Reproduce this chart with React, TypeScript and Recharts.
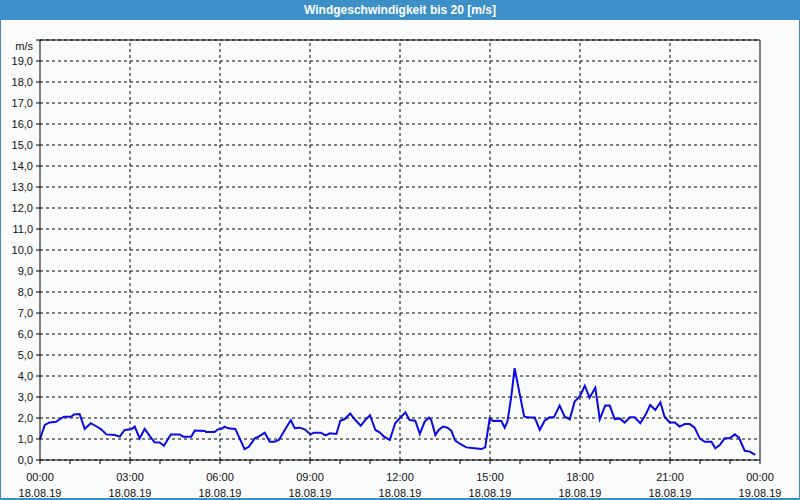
import { LineChart, Line, XAxis, YAxis, CartesianGrid, ReferenceLine } from 'recharts';

// hours since 18.08.19 00:00
const hours = [
  0, 0.16, 0.32, 0.54, 0.66, 0.8, 1.04, 1.13, 1.32, 1.49, 1.69, 1.93, 2.04, 2.21, 2.49, 2.66, 2.82,
  3.04, 3.16, 3.32, 3.49, 3.66, 3.82, 3.99, 4.13, 4.36, 4.66, 4.77, 5.04, 5.16, 5.49, 5.54, 5.82,
  5.93, 6.04, 6.16, 6.27, 6.51, 6.82, 6.96, 7.16, 7.29, 7.49, 7.66, 7.82, 7.96, 8.36, 8.49, 8.66,
  8.82, 9.02, 9.13, 9.36, 9.52, 9.66, 9.88, 10.01, 10.16, 10.34, 10.49, 10.69, 10.84, 11.0, 11.18,
  11.32, 11.47, 11.66, 11.84, 12.0, 12.18, 12.32, 12.51, 12.66, 12.82, 12.96, 13.04, 13.18, 13.29,
  13.43, 13.58, 13.71, 13.84, 14.02, 14.21, 14.49, 14.71, 14.84, 14.99, 15.1, 15.27, 15.38, 15.49,
  15.58, 15.71, 15.82, 16.14, 16.32, 16.49, 16.66, 16.82, 16.99, 17.13, 17.32, 17.49, 17.66, 17.82,
  17.96, 18.04, 18.16, 18.32, 18.51, 18.66, 18.84, 18.99, 19.16, 19.32, 19.49, 19.66, 19.82, 20.01,
  20.18, 20.34, 20.51, 20.68, 20.82, 20.99, 21.16, 21.32, 21.49, 21.66, 21.82, 21.99, 22.16, 22.38,
  22.51, 22.66, 22.82, 22.99, 23.16, 23.3, 23.49, 23.66, 23.84,
];

// m/s
const speeds = [
  1.0, 1.67, 1.79, 1.82, 1.94, 2.06, 2.06, 2.17, 2.19, 1.48, 1.75, 1.56, 1.46, 1.22, 1.19, 1.11, 1.43,
  1.46, 1.59, 1.03, 1.48, 1.14, 0.84, 0.83, 0.68, 1.22, 1.22, 1.11, 1.11, 1.4, 1.38, 1.33, 1.33,
  1.46, 1.48, 1.59, 1.51, 1.48, 0.52, 0.63, 1.03, 1.11, 1.3, 0.87, 0.87, 0.95, 1.9, 1.51, 1.54,
  1.46, 1.22, 1.3, 1.3, 1.17, 1.27, 1.24, 1.87, 1.95, 2.21, 1.94, 1.63, 1.9, 2.13, 1.43,
  1.32, 1.11, 0.95, 1.75, 2.0, 2.27, 1.9, 1.87, 1.24, 1.82, 2.02, 1.9, 1.19, 1.43,
  1.59, 1.54, 1.4, 0.92, 0.75, 0.6, 0.56, 0.52, 0.6, 1.98, 1.86, 1.87, 1.86, 1.54,
  1.82, 3.02, 4.37, 2.06, 2.02, 2.02, 1.43, 1.87, 2.03, 2.03, 2.59, 2.06, 1.94, 2.78,
  2.98, 3.17, 3.54, 2.97, 3.44, 1.94, 2.59, 2.59, 1.95, 1.98, 1.78, 2.03, 2.03, 1.75,
  2.14, 2.62, 2.38, 2.75, 2.06, 1.79, 1.79, 1.59, 1.71, 1.71, 1.54, 1.03, 0.87, 0.87,
  0.56, 0.71, 1.03, 1.03, 1.22, 1.06, 0.44, 0.4, 0.24,
];

const xTicks = Array.from({ length: 25 }, (_, i) => i);
const yTicks = Array.from({ length: 21 }, (_, i) => i);
const gridHours = [3, 6, 9, 12, 15, 18, 21];
const timeLabels = ['00:00', '03:00', '06:00', '09:00', '12:00', '15:00', '18:00', '21:00', '00:00'];
const dateLabels = ['18.08.19', '18.08.19', '18.08.19', '18.08.19', '18.08.19', '18.08.19', '18.08.19', '18.08.19', '19.08.19'];

const data = hours.map((h, i) => ({ h, v: speeds[i] }));

const FONT = '"Liberation Sans", Arial, sans-serif';
const BLUE = '#3d8fc7';

function TimeTick(props: any) {
  const { x, y, payload } = props;
  const h = payload.value;
  if (h % 3 !== 0) return null;
  const i = h / 3;
  return (
    <g>
      <text x={x} y={y + 15} textAnchor="middle" fontSize={11} fontFamily={FONT} fill="#111">
        {timeLabels[i]}
      </text>
      <text x={x} y={y + 31} textAnchor="middle" fontSize={11} fontFamily={FONT} fill="#111">
        {dateLabels[i]}
      </text>
    </g>
  );
}

function SpeedTick(props: any) {
  const { x, y, payload } = props;
  const v = payload.value;
  const label = v === 20 ? 'm/s' : v.toFixed(1).replace('.', ',');
  return (
    <text x={x - 1} y={v === 20 ? y + 10 : y + 4} textAnchor="end" fontSize={11} fontFamily={FONT} fill="#111">
      {label}
    </text>
  );
}

export default function App() {
  return (
    <div
      style={{
        position: 'absolute',
        left: 0,
        top: 0,
        width: 800,
        height: 500,
        background: '#fafcfb',
        boxSizing: 'border-box',
        borderLeft: `1px solid ${BLUE}`,
        borderRight: `1px solid ${BLUE}`,
        borderBottom: `2px solid ${BLUE}`,
        overflow: 'hidden',
      }}
    >
      <div
        style={{
          height: 20,
          background: BLUE,
          color: '#fff',
          fontFamily: FONT,
          fontWeight: 'bold',
          fontSize: 12,
          lineHeight: '20px',
          textAlign: 'center',
        }}
      >
        Windgeschwindigkeit bis 20 [m/s]
      </div>
      <div style={{ position: 'absolute', left: -1, top: 0 }}>
        <LineChart width={800} height={500} data={data} margin={{ top: 40, right: 40, bottom: 0, left: 0 }}>
          <CartesianGrid vertical={false} stroke="#000" strokeDasharray="3 3" />
          {gridHours.map((g) => (
            <ReferenceLine key={g} x={g} stroke="#000" strokeDasharray="3 3" />
          ))}
          <ReferenceLine y={20} stroke="#000" />
          <ReferenceLine x={24} stroke="#000" />
          <XAxis
            dataKey="h"
            type="number"
            domain={[0, 24]}
            ticks={xTicks}
            interval={0}
            height={40}
            stroke="#000"
            tickSize={4}
            tick={<TimeTick />}
          />
          <YAxis
            type="number"
            domain={[0, 20]}
            ticks={yTicks}
            interval={0}
            width={40}
            stroke="#000"
            tickSize={4}
            tick={<SpeedTick />}
          />
          <Line
            type="linear"
            dataKey="v"
            stroke="#0a0ae6"
            strokeWidth={2}
            dot={false}
            isAnimationActive={false}
          />
        </LineChart>
      </div>
    </div>
  );
}
